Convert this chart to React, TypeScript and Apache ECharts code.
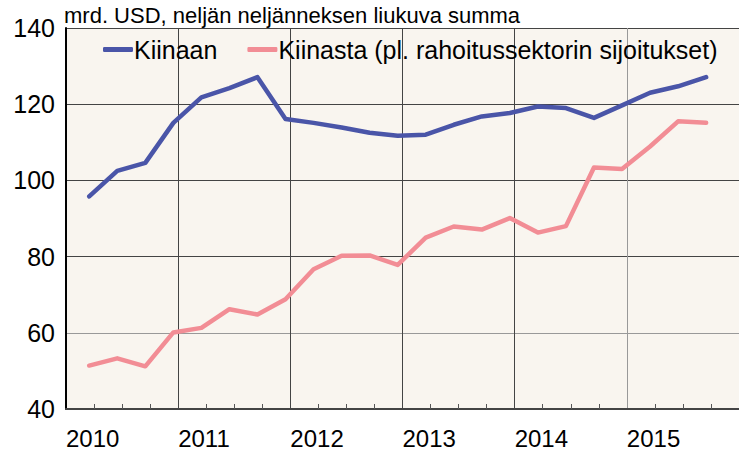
import React, { useEffect, useRef } from "react";
import * as echarts from "echarts";

const quarters = [
  "2010Q1","2010Q2","2010Q3","2010Q4",
  "2011Q1","2011Q2","2011Q3","2011Q4",
  "2012Q1","2012Q2","2012Q3","2012Q4",
  "2013Q1","2013Q2","2013Q3","2013Q4",
  "2014Q1","2014Q2","2014Q3","2014Q4",
  "2015Q1","2015Q2","2015Q3",
];
const kiinaan = [
  95.8, 102.5, 104.6, 115.1, 121.8, 124.2, 127.1, 116.1,
  115.1, 113.9, 112.5, 111.7, 112.0, 114.6, 116.8, 117.7,
  119.4, 119.0, 116.4, 119.7, 123.0, 124.7, 127.1,
];
const kiinasta = [
  51.4, 53.3, 51.2, 60.1, 61.3, 66.2, 64.8, 68.8,
  76.7, 80.2, 80.3, 77.8, 85.0, 87.9, 87.1, 90.1,
  86.3, 88.0, 103.4, 103.0, 108.9, 115.5, 115.1,
];
const yTicks = [40, 60, 80, 100, 120, 140];
const years = [2010, 2011, 2012, 2013, 2014, 2015, 2016];
const seriesNames = ["Kiinaan", "Kiinasta (pl. rahoitussektorin sijoitukset)"];
const subtitle = "mrd. USD, neljän neljänneksen liukuva summa";

const FONT = "'Liberation Sans', Arial, sans-serif";

function qPos(q: string): number {
  const y = parseInt(q.slice(0, 4), 10);
  const n = parseInt(q.slice(5), 10);
  return y + n * 0.25 - 0.043;
}

export default function App() {
  const ref = useRef<HTMLDivElement>(null);
  useEffect(() => {
    if (!ref.current) return;
    const chart = echarts.init(ref.current, undefined, { renderer: "svg" });
    chart.setOption({
      animation: false,
      backgroundColor: "#ffffff",
      textStyle: { fontFamily: FONT, color: "#000" },
      grid: {
        left: 66,
        top: 28,
        right: -7,
        bottom: 41,
        show: true,
        backgroundColor: "#f9f5ef",
        borderWidth: 0,
      },
      legend: {
        left: 103,
        top: 37,
        padding: 0,
        itemWidth: 30,
        itemHeight: 5,
        itemGap: 30,
        icon: "roundRect",
        textStyle: { fontSize: 25, color: "#000", fontFamily: FONT, padding: [0, 0, 0, -4] },
        data: seriesNames,
      },
      graphic: [
        {
          type: "text",
          left: 64,
          top: 4,
          style: { text: subtitle, fontSize: 22, fontFamily: FONT, fill: "#000" },
        },
      ],
      xAxis: {
        type: "value",
        min: years[0],
        max: years[years.length - 1],
        interval: 1,
        axisLine: { show: true, onZero: false, lineStyle: { color: "#444", width: 2 } },
        axisTick: { show: false, inside: true },
        minorTick: { show: true, splitNumber: 4, length: 5, lineStyle: { color: "#555", width: 1 } },
        splitLine: {
          show: true,
          lineStyle: { color: ["#000", "#444", "#444", "#444", "#444", "#999", "#444"], width: 1 },
        },
        axisLabel: {
          fontSize: 24,
          color: "#000",
          align: "left",
          margin: 17,
          fontFamily: FONT,
          showMaxLabel: false,
          formatter: (v: number) => String(v),
        },
      },
      yAxis: {
        type: "value",
        min: yTicks[0],
        max: yTicks[yTicks.length - 1],
        interval: 20,
        axisLine: { show: true, lineStyle: { color: "#000", width: 2 } },
        axisTick: { show: false },
        splitLine: {
          show: true,
          lineStyle: { color: ["#444", "#999", "#444", "#444", "#444", "#444"], width: 1 },
        },
        axisLabel: { fontSize: 25, color: "#000", margin: 11, fontFamily: FONT },
      },
      series: [
        {
          name: seriesNames[0],
          type: "line",
          data: quarters.map((q, i) => [qPos(q), kiinaan[i]]),
          showSymbol: false,
          color: "#4a55a8",
          lineStyle: { width: 4.5, color: "#4a55a8", cap: "round", join: "round" },
        },
        {
          name: seriesNames[1],
          type: "line",
          data: quarters.map((q, i) => [qPos(q), kiinasta[i]]),
          showSymbol: false,
          color: "#f28d95",
          lineStyle: { width: 4.5, color: "#f28d95", cap: "round", join: "round" },
        },
      ],
    });
    return () => chart.dispose();
  }, []);
  return (
    <div
      ref={ref}
      style={{ position: "absolute", left: 0, top: 0, width: 739, height: 450 }}
    />
  );
}
